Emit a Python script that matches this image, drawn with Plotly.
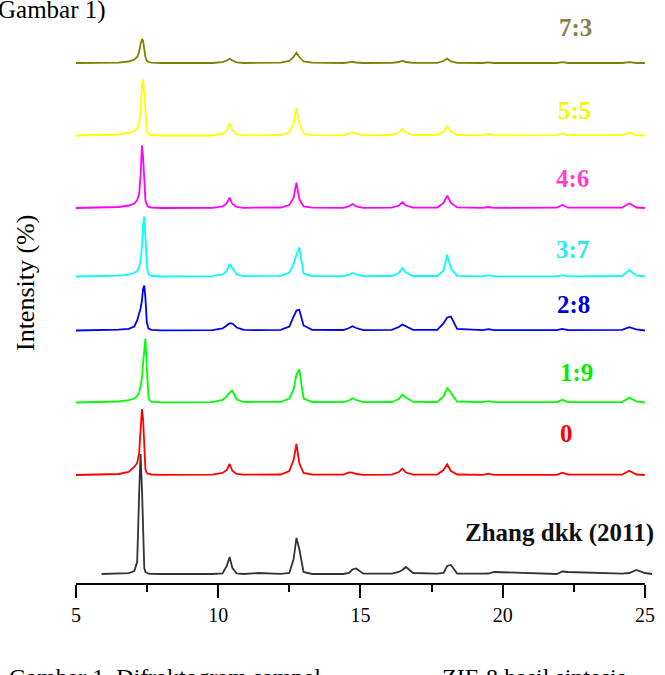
import plotly.graph_objects as go

# ---------------- data ----------------
X_GRID = [5.0, 5.9, 6.5, 6.85, 7.05, 7.15, 7.22, 7.27, 7.32, 7.36, 7.40, 7.44, 7.49, 7.55, 7.65, 8.0,
          9.8, 10.15, 10.3, 10.4, 10.5, 10.65, 10.9, 11.4,
          12.2, 12.5, 12.65, 12.75, 12.85, 13.0, 13.3,
          14.4, 14.6, 14.72, 14.85, 15.1,
          16.1, 16.35, 16.47, 16.6, 16.85,
          17.7, 17.92, 18.05, 18.18, 18.4,
          19.3, 19.5, 19.7,
          21.9, 22.1, 22.3,
          24.2, 24.45, 24.7, 25.0, 25.25]

SERIES_LABELS = ["7:3", "5:5", "4:6", "3:7", "2:8", "1:9", "0", "Zhang dkk (2011)"]

I_73 = [0, 0, 0.3, 1.5, 3.5, 6, 11, 19, 24, 22, 13, 6, 2.5, 1, 0.3, 0,
        0, 0.8, 2.5, 4.3, 2.5, 0.7, 0, 0.3,
        0.3, 2, 6, 10.4, 6, 1.5, 0.3,
        0, 0.5, 1.2, 0.5, 0,
        0.2, 1, 2.3, 1, 0.2,
        0.2, 2, 4.3, 1.5, 0.2,
        0, 0.6, 0,
        0, 0.8, 0,
        0, 0.9, 0, 0, None]

I_55 = [0, 0.3, 1, 2.5, 4.5, 7, 12, 25, 50, 56, 40, 15, 5, 1.5, 0.5, 0,
        0, 1.5, 5, 12.3, 5, 1, 0.2, 0.2,
        0.5, 3, 12, 27.7, 12, 2, 0.3,
        0.2, 1.5, 3.3, 1.5, 0.2,
        0.5, 3, 6.7, 3, 0.5,
        0.5, 4, 9.3, 4, 0.5,
        0.2, 1.7, 0.2,
        0.3, 2, 0.3,
        0.3, 2.7, 0.5, 0, None]

I_46 = [0, 0.3, 1, 2.5, 4.5, 8, 14, 32, 62.7, 50, 25, 8, 3, 1, 0.5, 0,
        0.2, 1.5, 4.5, 10.3, 4, 1, 0.2, 0.2,
        0.5, 3, 10, 25.3, 9, 1.5, 0.3,
        0.2, 1.8, 4, 1.5, 0.2,
        0.4, 2.5, 5.7, 2.5, 0.4,
        0.5, 5, 12.3, 5, 0.6,
        0.2, 1, 0.2,
        0.3, 3, 0.3,
        0.3, 4.7, 0.5, 0, None]

I_37 = [0, 0.3, 0.8, 1.8, 3.5, 5.5, 9, 16, 30, 52, 60, 40, 10, 2, 0.5, 0,
        0.3, 2, 5, 12.5, 8, 2, 0.4, 0.3,
        0.6, 4, 12, 22, 29, 3, 0.4,
        0.3, 1.5, 3.7, 2, 0.3,
        0.5, 3.5, 8.3, 4, 0.5,
        0.5, 6, 21.7, 8, 0.6,
        0.2, 1.3, 0.2,
        0.2, 1.3, 0.2,
        0.5, 6.3, 1, 0, None]

I_28 = [0, 0.3, 0.8, 1.7, 4, 10, 16, 22, 30, 42, 45, 33, 8, 2, 0.6, 0.2,
        0.3, 2, 5, 7.3, 7, 3, 0.6, 0.3,
        0.6, 4, 14, 20, 20.7, 5, 0.6,
        0.5, 2.5, 4.3, 2.5, 0.4,
        0.6, 3.5, 6, 4, 0.6,
        0.6, 7, 13, 14, 1.5,
        0.3, 1.3, 0.4,
        0.3, 1.7, 0.4,
        0.6, 3.3, 1.2, 0, None]

I_19 = [0, 0.3, 1, 2.3, 4, 6.5, 10, 16, 25, 40, 58, 64, 35, 4, 0.8, 0.2,
        0.4, 2.5, 6, 10, 11.7, 3, 0.5, 0.3,
        0.6, 4, 13, 28, 33, 4, 0.5,
        0.4, 2, 4.3, 2.5, 0.3,
        0.5, 3.5, 7.7, 5, 0.6,
        0.5, 6, 14.7, 10, 1,
        0.3, 1.3, 0.3,
        0.3, 2.7, 0.4,
        0.5, 4.7, 1.2, 0, None]

I_0 = [0, 0.3, 1, 3, 8, 12, 22, 45, 66, 55, 25, 6, 2, 1, 0.5, 0.2,
       0.3, 2, 5, 11, 4, 1, 0.3, 0.3,
       0.5, 4, 15, 31, 12, 2, 0.4,
       0.3, 2.7, 2.3, 1, 0.2,
       0.4, 3, 6.3, 2.5, 0.4,
       0.4, 5, 10.7, 4, 0.5,
       0.2, 1.3, 0.2,
       0.2, 2.3, 0.3,
       0.3, 4.3, 0.5, 0, None]

I_ZHANG = [None, 0, 0.3, 0.8, 3, 12, 80, 120, 85, 30, 6, 2, 0.8, 0.3, 0.2, 0,
           0, 0.5, 8, 17, 6, 0.5, 0, 1,
           0.2, 1, 15, 36, 25, 2, 0,
           0, 1, 4.5, 5.5, 0.3,
           0.3, 2, 4, 7, 1,
           0.3, 1, 8, 9, 0.5,
           0.3, 0.5, 2,
           0, 2.5, 2,
           0.3, 1, 4, 1, 0]

SERIES_VALUES = [I_73, I_55, I_46, I_37, I_28, I_19, I_0, I_ZHANG]

X_TICKS = [5, 10, 15, 20, 25]
X_MINOR_TICKS = [7.5, 12.5, 17.5, 22.5]

# ---------------- styling / layout ----------------
STACK_OFFSET = [521, 448.5, 376, 307.5, 253.5, 181.5, 109, 10]
LINE_COLORS = ["#808000", "#ffff00", "#ff00ff", "#00ffff", "#0000f0", "#00ff00", "#ff0000", "#333333"]
LABEL_COLORS = ["#8a7d50", "#f5f500", "#ff3fcc", "#22eeee", "#0000d8", "#00ee00", "#ff0000", "#111111"]
LABEL_POS = [(22.55, 557), (22.53, 474), (22.46, 406), (22.44, 335),
             (22.49, 280), (22.6, 212), (22.25, 151), (22.0, 51)]

FONT = "Liberation Serif, Times New Roman, serif"

fig = go.Figure()
for vals, off, col in zip(SERIES_VALUES, STACK_OFFSET, LINE_COLORS):
    y = [None if v is None else v + off for v in vals]
    fig.add_trace(go.Scatter(x=X_GRID, y=y, mode="lines",
                             line=dict(color=col, width=1.8),
                             showlegend=False, hoverinfo="skip"))

annotations = []
for lab, (lx, ly), lc in zip(SERIES_LABELS, LABEL_POS, LABEL_COLORS):
    annotations.append(dict(x=lx, y=ly, xref="x", yref="y", text="<b>%s</b>" % lab,
                            showarrow=False, xanchor="center", yanchor="middle",
                            font=dict(family=FONT, size=25, color=lc)))

# axis titles and surrounding document text
annotations.append(dict(x=-0.0885, y=0.5154, xref="paper", yref="paper", text="Intensity (%)",
                        textangle=-90, showarrow=False, xanchor="center", yanchor="middle",
                        font=dict(family=FONT, size=26, color="black")))
annotations.append(dict(x=14.85, y=-76, xref="x", yref="y", text="2θ (<sup>0</sup>)",
                        showarrow=False, xanchor="center", yanchor="middle",
                        font=dict(family=FONT, size=20, color="black")))
annotations.append(dict(x=-0.1389, y=1.0103, xref="paper", yref="paper", text="Gambar 1)",
                        showarrow=False, xanchor="left", yanchor="top",
                        font=dict(family=FONT, size=25, color="black")))
annotations.append(dict(x=-0.1198, y=-0.1336, xref="paper", yref="paper",
                        text="Gambar 1. Difraktogram sampel",
                        showarrow=False, xanchor="left", yanchor="top",
                        font=dict(family=FONT, size=24, color="black")))
annotations.append(dict(x=0.632, y=-0.1336, xref="paper", yref="paper",
                        text="ZIF-8 hasil sintesis",
                        showarrow=False, xanchor="left", yanchor="top",
                        font=dict(family=FONT, size=24, color="black")))

fig.update_layout(
    width=665, height=675,
    margin=dict(l=76, r=13, t=0, b=91),
    paper_bgcolor="white", plot_bgcolor="white",
    annotations=annotations,
    shapes=[dict(type="line", xref="x", yref="paper", x0=5, x1=25, y0=0, y1=0,
                 line=dict(color="black", width=2))],
    xaxis=dict(range=[5, 25.25], tickvals=X_TICKS, ticks="outside", ticklen=13,
               tickwidth=2, tickcolor="black", showline=False, showgrid=False,
               zeroline=False, tickfont=dict(family=FONT, size=20, color="black"),
               minor=dict(tickvals=X_MINOR_TICKS, ticks="outside", ticklen=7,
                          tickwidth=2, tickcolor="black")),
    yaxis=dict(range=[0, 584], visible=False, fixedrange=True),
)

fig.write_html("out.html",
               config={"displayModeBar": False},
               post_script="document.body.style.margin='0';document.body.style.overflow='hidden';")
